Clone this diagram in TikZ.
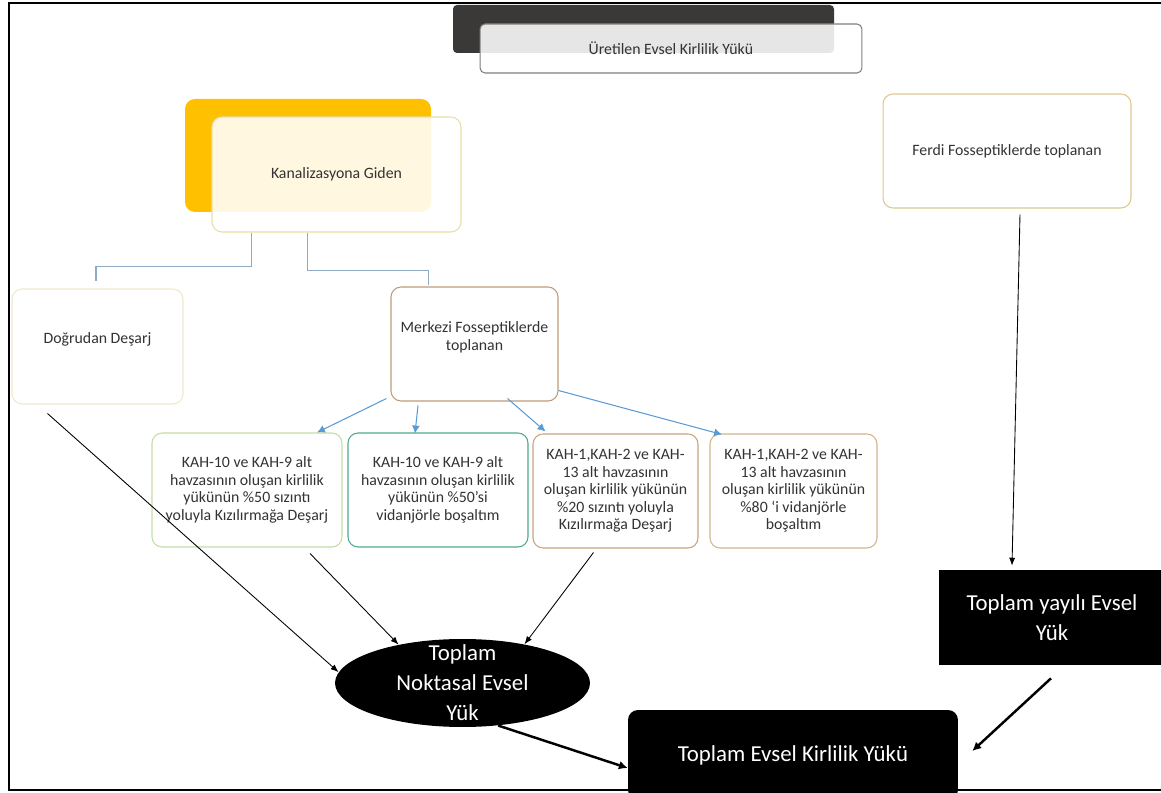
\documentclass[tikz,border=0pt]{standalone}
\usepackage{fontspec}
\setmainfont{Carlito}
\usetikzlibrary{shapes.geometric,arrows.meta,calc}

\definecolor{hdrdark}{HTML}{3B3838}
\definecolor{hdrline}{HTML}{7F7F7F}
\definecolor{kanorange}{HTML}{FFC000}
\definecolor{kanline}{HTML}{E6E0A6}
\definecolor{dogline}{HTML}{EFE9CC}
\definecolor{merkline}{HTML}{BF9B78}
\definecolor{kgreen}{HTML}{C6DBA5}
\definecolor{kteal}{HTML}{4FAA8F}
\definecolor{kbrown}{HTML}{C9A47E}
\definecolor{ktan}{HTML}{D2B48E}
\definecolor{ferdiline}{HTML}{D9C98E}
\definecolor{treeblue}{HTML}{8FAAC3}
\definecolor{arrowblue}{HTML}{5B9BD5}
\definecolor{txt}{HTML}{333333}

\begin{document}
\begin{tikzpicture}
	[ x=0.02cm, y=-0.02cm,
	  card/.style={draw,rounded corners=0.2cm,fill=white,align=center,text=txt,
	    font=\fontsize{9}{10}\selectfont,line width=0.6pt},
	  blk/.style={fill=black,text=white,align=center,font=\fontsize{13}{17}\selectfont},
	  tree/.style={treeblue,line width=0.6pt},
	  flow/.style={arrowblue,line width=0.6pt,-{Latex[length=4.5pt,width=4.5pt]}},
	  sum/.style={line width=0.5pt,-{Latex[length=4.5pt,width=3.5pt]}},
	  bold/.style={line width=1.4pt,-{Latex[length=5pt,width=5pt]}} ]

	\useasboundingbox (0,0) rectangle (1161,793);

	% header
	\fill[hdrdark,rounded corners=0.08cm] (453,5) rectangle (834,53);
	\node[card,draw=hdrline,fill opacity=0.88,text opacity=1,rounded corners=0.1cm,
	  minimum width=7.64cm,minimum height=0.98cm] (uret) at (671,48.5) {Üretilen Evsel Kirlilik Yükü};

	% kanalizasyon
	\fill[kanorange,rounded corners=0.2cm] (185,99) rectangle (431,212);
	\node[card,draw=kanline,fill opacity=0.88,text opacity=1,
	  minimum width=4.98cm,minimum height=2.3cm] (kanal) at (336.5,174.5) {Kanalizasyona Giden};

	\node[card,draw=dogline,text depth=10pt,minimum width=3.42cm,minimum height=2.3cm] (dog) at (97.5,346.5) {Doğrudan Deşarj};
	\node[card,draw=merkline,text depth=9pt,minimum width=3.34cm,minimum height=2.28cm] (merk) at (474.5,344) {Merkezi Fosseptiklerde\\toplanan};

	\node[card,draw=kgreen,minimum width=3.8cm,minimum height=2.28cm] (k1) at (247,490)
	  {KAH-10 ve KAH-9 alt\\havzasının oluşan kirlilik\\yükünün \%50 sızıntı\\yoluyla Kızılırmağa Deşarj};
	\node[card,draw=kteal,minimum width=3.6cm,minimum height=2.28cm] (k2) at (438,490)
	  {KAH-10 ve KAH-9 alt\\havzasının oluşan kirlilik\\yükünün \%50’si\\vidanjörle boşaltım};
	\node[card,draw=kbrown,minimum width=3.3cm,minimum height=2.28cm] (k3) at (615.5,491)
	  {KAH-1,KAH-2 ve KAH-\\13 alt havzasının\\oluşan kirlilik yükünün\\\%20 sızıntı yoluyla\\Kızılırmağa Deşarj};
	\node[card,draw=ktan,minimum width=3.34cm,minimum height=2.28cm] (k4) at (793.5,491)
	  {KAH-1,KAH-2 ve KAH-\\13 alt havzasının\\oluşan kirlilik yükünün\\\%80 ‘i vidanjörle\\boşaltım};

	\node[card,draw=ferdiline,minimum width=4.96cm,minimum height=2.28cm] (ferdi) at (1007,151) {Ferdi Fosseptiklerde toplanan};

	% totals
	\node[blk,ellipse,inner sep=0pt,minimum width=5.1cm,minimum height=1.76cm] (nokta) at (462.5,683) {};
	\node[blk,fill=none] (noktatxt) at (nokta) {Toplam\\Noktasal Evsel\\Yük};
	\node[blk,minimum width=4.52cm,minimum height=1.9cm] (yayili) at (1052,617.5) {Toplam yayılı Evsel\\Yük};
	\node[blk,rounded corners=0.2cm,minimum width=6.6cm,minimum height=1.8cm] (toplam) at (793,755) {Toplam Evsel Kirlilik Yükü};

	% frame
	\draw[line width=1.2pt] (1170,3) -- (9,3) -- (9,790) -- (1170,790);

	\draw[tree] ($(kanal.south west)+(40,0)$) -- ++(0,34) -| ($(dog.north)+(-1.5,-7)$);
	\draw[tree] ($(kanal.south west)+(96,0)$) -- ++(0,38) -| ($(merk.north west)+(38,-1)$);

	\draw[flow] ($(merk.south west)+(-4,-3)$) -- ($(k1.north)+(70,0)$);
	\draw[flow] ($(merk.south)+(-56.5,4)$) -- ($(k2.north)+(-23,1)$);
	\draw[flow] ($(merk.south)+(33,-3)$) -- ($(k3.north)+(-70,-2)$);
	\draw[flow] ($(merk.south east)+(0,-11)$) -- ($(k4.north)+(-71.5,1)$);

	\draw[sum] ($(dog.south west)+(36,9)$) -- (nokta.175);
	\draw[sum] ($(k1.south)+(63,6)$) -- (nokta.149);
	\draw[sum] ($(k3.south)+(-22,4)$) -- (nokta.32);
	\draw[sum] ($(ferdi.south)+(13,6)$) -- ($(yayili.north)+(-40,-4)$);
	\draw[bold] (nokta.-50) -- ($(toplam.west)+(0,13)$);
	\draw[bold] ($(yayili.south)+(-1,13)$) -- ($(toplam.east)+(14,-4)$);

\end{tikzpicture}
\end{document}
